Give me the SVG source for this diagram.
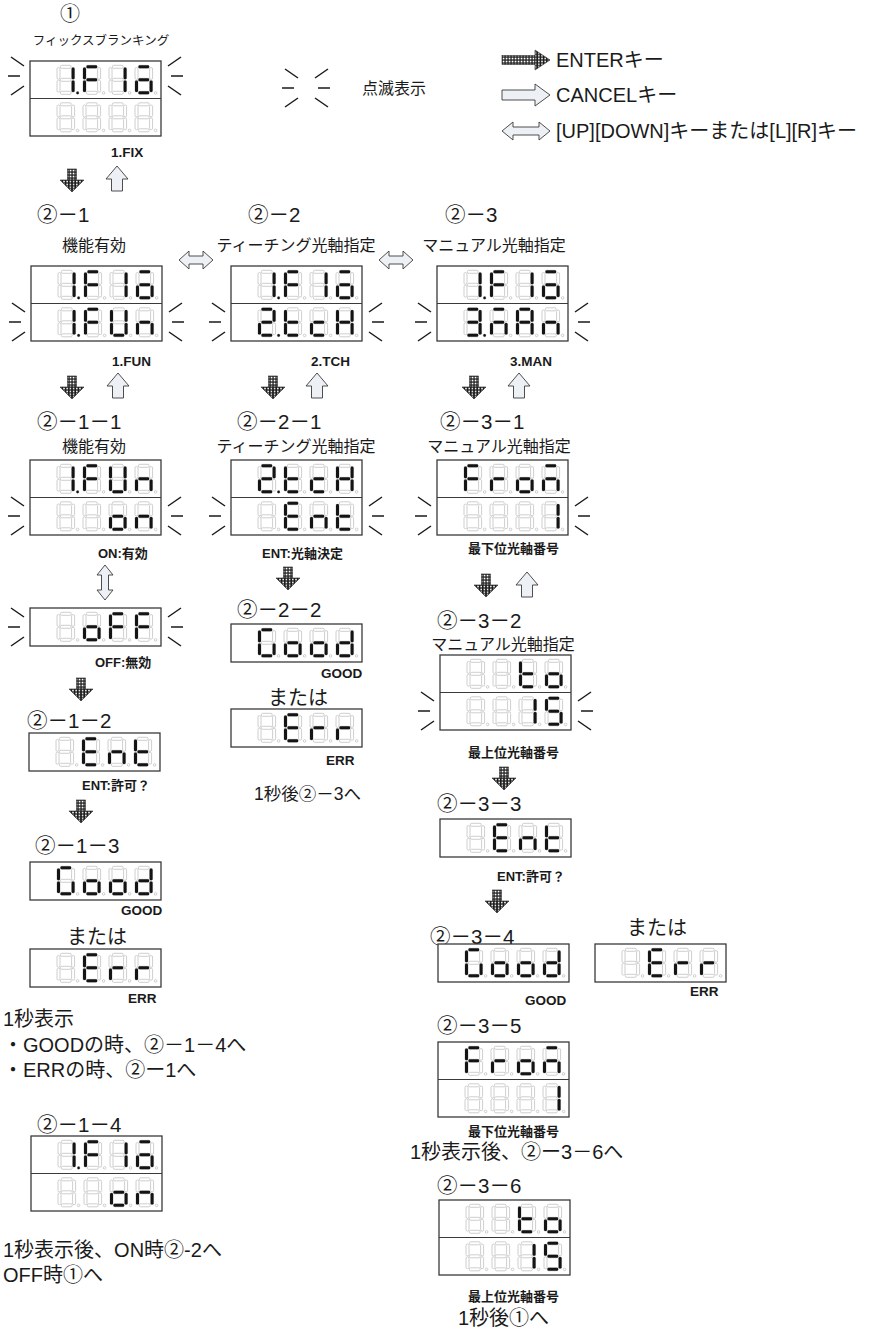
<svg xmlns="http://www.w3.org/2000/svg" xmlns:xlink="http://www.w3.org/1999/xlink" width="873" height="1329" viewBox="0 0 873 1329">
<style>
.gs{fill:#fff;stroke:#c2c2c2;stroke-width:0.8}
.on{fill:#141414;stroke:none}
.box{fill:#fff;stroke:#3a3a3a;stroke-width:1.3}
.dv{stroke:#3a3a3a;stroke-width:1.2}
.bl{fill:none;stroke:#1a1a1a;stroke-width:1.5}
.ca{fill:#edf1f5;stroke:#3a3a3a;stroke-width:0.9}
.t{font-family:"Liberation Sans","Noto Sans CJK JP",sans-serif;fill:#1a1a1a}
.lb{font-size:20.5px}
.sub{font-size:16px}
.bd{font-size:20px}
.lg{font-size:20px}
.sm{font-size:13px;font-weight:bold}
.tg{font-size:13.5px;font-weight:bold}
</style>
<defs>
<rect id="sA" x="3.4" y="0" width="10.8" height="3" rx="1.3"/>
<rect id="sB" x="14.6" y="2.3" width="3" height="11.7" rx="1.3"/>
<rect id="sC" x="14.6" y="15.1" width="3" height="11.7" rx="1.3"/>
<rect id="sD" x="3.4" y="26" width="10.8" height="3" rx="1.3"/>
<rect id="sE" x="0" y="15.1" width="3" height="11.7" rx="1.3"/>
<rect id="sF" x="0" y="2.3" width="3" height="11.7" rx="1.3"/>
<rect id="sG" x="3.4" y="13" width="10.8" height="3" rx="1.3"/>
<circle id="sP" cx="20.6" cy="27.6" r="1.3"/>
<g id="g8" class="gs"><use href="#sA"/><use href="#sB"/><use href="#sC"/><use href="#sD"/><use href="#sE"/><use href="#sF"/><use href="#sG"/><use href="#sP"/></g>
<g id="c1"><use href="#g8"/><g class="on"><use href="#sB"/><use href="#sC"/></g></g>
<g id="c1p"><use href="#c1"/><use class="on" href="#sP"/></g>
<g id="c2p"><use href="#g8"/><g class="on"><use href="#sA"/><use href="#sB"/><use href="#sG"/><use href="#sE"/><use href="#sD"/><use href="#sP"/></g></g>
<g id="c3p"><use href="#g8"/><g class="on"><use href="#sA"/><use href="#sB"/><use href="#sG"/><use href="#sC"/><use href="#sD"/><use href="#sP"/></g></g>
<g id="cF"><use href="#g8"/><g class="on"><use href="#sA"/><use href="#sF"/><use href="#sE"/><use href="#sG"/></g></g>
<g id="cX"><use href="#g8"/><g class="on"><use href="#sA"/><use href="#sG"/><use href="#sC"/><use href="#sD"/><use href="#sE"/></g></g>
<g id="cU"><use href="#g8"/><g class="on"><use href="#sB"/><use href="#sC"/><use href="#sD"/><use href="#sE"/><use href="#sF"/></g></g>
<g id="cn"><use href="#g8"/><g class="on"><use href="#sC"/><use href="#sE"/><use href="#sG"/></g></g>
<g id="cM"><use href="#g8"/><g class="on"><use href="#sA"/><use href="#sC"/><use href="#sE"/><use href="#sG"/></g></g>
<g id="cA"><use href="#g8"/><g class="on"><use href="#sA"/><use href="#sB"/><use href="#sC"/><use href="#sE"/><use href="#sF"/><use href="#sG"/></g></g>
<g id="ct"><use href="#g8"/><g class="on"><use href="#sD"/><use href="#sE"/><use href="#sF"/><use href="#sG"/></g></g>
<g id="cc"><use href="#g8"/><g class="on"><use href="#sD"/><use href="#sE"/><use href="#sG"/></g></g>
<g id="cH"><use href="#g8"/><g class="on"><use href="#sB"/><use href="#sC"/><use href="#sE"/><use href="#sF"/><use href="#sG"/></g></g>
<g id="co"><use href="#g8"/><g class="on"><use href="#sC"/><use href="#sD"/><use href="#sE"/><use href="#sG"/></g></g>
<g id="cE"><use href="#g8"/><g class="on"><use href="#sA"/><use href="#sD"/><use href="#sE"/><use href="#sF"/><use href="#sG"/></g></g>
<g id="cG"><use href="#g8"/><g class="on"><use href="#sA"/><use href="#sC"/><use href="#sD"/><use href="#sE"/><use href="#sF"/></g></g>
<g id="cd"><use href="#g8"/><g class="on"><use href="#sB"/><use href="#sC"/><use href="#sD"/><use href="#sE"/><use href="#sG"/></g></g>
<g id="cr"><use href="#g8"/><g class="on"><use href="#sE"/><use href="#sG"/></g></g>
<g id="c5"><use href="#g8"/><g class="on"><use href="#sA"/><use href="#sF"/><use href="#sG"/><use href="#sC"/><use href="#sD"/></g></g>
<g id="b2"><rect class="box" width="131" height="75"/><line class="dv" x1="0" y1="37.5" x2="131" y2="37.5"/></g>
<rect id="b1" class="box" width="131" height="38"/>
<path id="bkL" class="bl" d="M-19,-19L-6,-10M-22,0H-10M-19,19L-6,10"/>
<path id="bkR" class="bl" d="M7,-10L20,-19M10,0H22M7,10L20,19"/>
<pattern id="pS" width="3" height="3" patternUnits="userSpaceOnUse"><rect width="3" height="3" fill="#222"/><rect x="0.7" y="0.7" width="1.7" height="1.7" fill="#fff"/></pattern>
<pattern id="pH" width="3.2" height="2.8" patternUnits="userSpaceOnUse"><rect width="3.2" height="2.8" fill="#1c1c1c"/><circle cx="1.6" cy="1.4" r="0.85" fill="#fff"/></pattern>
<g id="aDn"><rect x="-4.5" y="0" width="9" height="11" fill="url(#pS)" stroke="#222" stroke-width="0.6"/><path d="M-12,11H12L0,23Z" fill="url(#pH)" stroke="#222" stroke-width="0.6"/></g>
<path id="aUp" class="ca" d="M0,0L11,13H5.5V25H-5.5V13H-11Z"/>
<path id="aUD" class="ca" d="M0,0L8,10H3.5V25H8L0,35L-8,25H-3.5V10H-8Z"/>
<path id="aLR" class="ca" d="M0,0L10,-9V-4H24V-9L34,0L24,9V4H10V9Z"/>
</defs>

<!-- legend -->
<g id="legend">
<use href="#bkL" x="304" y="88"/><use href="#bkR" x="308" y="88"/>
<text class="t" x="362" y="94" font-size="16">点滅表示</text>
<g transform="translate(502,60)"><rect x="0" y="-4.5" width="33" height="9" fill="url(#pS)" stroke="#222" stroke-width="0.6"/><path d="M33,-10L48,0L33,10Z" fill="url(#pH)" stroke="#222" stroke-width="0.6"/></g>
<text class="t lg" x="556" y="67">ENTERキー</text>
<path class="ca" transform="translate(502,95)" d="M0,-5H33V-11L48,0L33,11V5H0Z"/>
<text class="t lg" x="556" y="102">CANCELキー</text>
<path class="ca" transform="translate(502,131)" d="M0,0L11,-9V-4H37V-9L48,0L37,9V4H11V9Z"/>
<text class="t lg" x="556" y="138">[UP][DOWN]キーまたは[L][R]キー</text>
</g>

<!-- 1 -->
<g id="n1">
<text class="t" x="70" y="21" font-size="20" text-anchor="middle">①</text>
<text class="t" x="101" y="45" font-size="12.5" text-anchor="middle">フィックスブランキング</text>
<g transform="translate(30,61)">
<use href="#b2"/>
<use href="#c1p" x="27" y="4.3"/><use href="#cF" x="53" y="4.3"/><use href="#c1" x="79" y="4.3"/><use href="#cX" x="105" y="4.3"/>
<use href="#g8" x="27" y="41.8"/><use href="#g8" x="53" y="41.8"/><use href="#g8" x="79" y="41.8"/><use href="#g8" x="105" y="41.8"/>
<use href="#bkL" x="0" y="15"/><use href="#bkR" x="131" y="15"/>
</g>
<text class="t tg" x="111" y="157">1.FIX</text>
</g>

<!-- 2-1 -->
<g id="n2-1">
<text class="t lb" x="37" y="222">②－1</text>
<text class="t sub" x="94" y="251" text-anchor="middle">機能有効</text>
<g transform="translate(31,266)">
<use href="#b2"/>
<use href="#c1p" x="27" y="4.3"/><use href="#cF" x="53" y="4.3"/><use href="#c1" x="79" y="4.3"/><use href="#cX" x="105" y="4.3"/>
<use href="#c1p" x="27" y="41.8"/><use href="#cF" x="53" y="41.8"/><use href="#cU" x="79" y="41.8"/><use href="#cn" x="105" y="41.8"/>
<use href="#bkL" x="0" y="56"/><use href="#bkR" x="131" y="56"/>
</g>
<text class="t tg" x="112" y="366">1.FUN</text>
</g>

<!-- 2-2 -->
<g id="n2-2">
<text class="t lb" x="248" y="222">②－2</text>
<text class="t sub" x="296" y="251" text-anchor="middle">ティーチング光軸指定</text>
<g transform="translate(231,266)">
<use href="#b2"/>
<use href="#c1p" x="27" y="4.3"/><use href="#cF" x="53" y="4.3"/><use href="#c1" x="79" y="4.3"/><use href="#cX" x="105" y="4.3"/>
<use href="#c2p" x="27" y="41.8"/><use href="#ct" x="53" y="41.8"/><use href="#cc" x="79" y="41.8"/><use href="#cH" x="105" y="41.8"/>
<use href="#bkL" x="0" y="56"/><use href="#bkR" x="131" y="56"/>
</g>
<text class="t tg" x="311" y="366">2.TCH</text>
</g>

<!-- 2-3 -->
<g id="n2-3">
<text class="t lb" x="445" y="222">②－3</text>
<text class="t sub" x="494" y="251" text-anchor="middle">マニュアル光軸指定</text>
<g transform="translate(437,266)">
<use href="#b2"/>
<use href="#c1p" x="27" y="4.3"/><use href="#cF" x="53" y="4.3"/><use href="#c1" x="79" y="4.3"/><use href="#cX" x="105" y="4.3"/>
<use href="#c3p" x="27" y="41.8"/><use href="#cM" x="53" y="41.8"/><use href="#cA" x="79" y="41.8"/><use href="#cn" x="105" y="41.8"/>
<use href="#bkL" x="0" y="56"/><use href="#bkR" x="131" y="56"/>
</g>
<text class="t tg" x="510" y="366">3.MAN</text>
</g>

<!-- 2-1-1 -->
<g id="n2-1-1">
<text class="t lb" x="37" y="429">②－1－1</text>
<text class="t sub" x="94" y="452" text-anchor="middle">機能有効</text>
<g transform="translate(30,460)">
<use href="#b2"/>
<use href="#c1p" x="27" y="4.3"/><use href="#cF" x="53" y="4.3"/><use href="#cU" x="79" y="4.3"/><use href="#cn" x="105" y="4.3"/>
<use href="#g8" x="27" y="41.8"/><use href="#g8" x="53" y="41.8"/><use href="#co" x="79" y="41.8"/><use href="#cn" x="105" y="41.8"/>
<use href="#bkL" x="0" y="56"/><use href="#bkR" x="131" y="56"/>
</g>
<text class="t sm" x="98" y="558">ON:有効</text>
</g>

<!-- OFF -->
<g id="n-off">
<g transform="translate(30,608)">
<use href="#b1"/>
<use href="#g8" x="27" y="4.3"/><use href="#co" x="53" y="4.3"/><use href="#cF" x="79" y="4.3"/><use href="#cF" x="105" y="4.3"/>
<use href="#bkL" x="0" y="19"/><use href="#bkR" x="131" y="19"/>
</g>
<text class="t sm" x="95" y="667">OFF:無効</text>
</g>

<!-- 2-1-2 -->
<g id="n2-1-2">
<text class="t lb" x="27" y="728">②－1－2</text>
<g transform="translate(29,733)">
<use href="#b1"/>
<use href="#g8" x="27" y="4.3"/><use href="#cE" x="53" y="4.3"/><use href="#cn" x="79" y="4.3"/><use href="#ct" x="105" y="4.3"/>
</g>
<text class="t sm" x="82" y="790">ENT:許可？</text>
</g>

<!-- 2-1-3 -->
<g id="n2-1-3">
<text class="t lb" x="35" y="853">②－1－3</text>
<g transform="translate(30,862)">
<use href="#b1"/>
<use href="#cG" x="27" y="4.3"/><use href="#co" x="53" y="4.3"/><use href="#co" x="79" y="4.3"/><use href="#cd" x="105" y="4.3"/>
</g>
<text class="t tg" x="121" y="915">GOOD</text>
</g>

<g id="n2-1-3err">
<text class="t bd" x="67" y="944">または</text>
<g transform="translate(30,949)">
<use href="#b1"/>
<use href="#g8" x="27" y="4.3"/><use href="#cE" x="53" y="4.3"/><use href="#cr" x="79" y="4.3"/><use href="#cr" x="105" y="4.3"/>
</g>
<text class="t tg" x="128" y="1003">ERR</text>
</g>

<g id="note1">
<text class="t bd" x="3" y="1026">1秒表示</text>
<text class="t bd" x="3" y="1052">・GOODの時、②－1－4へ</text>
<text class="t bd" x="3" y="1077">・ERRの時、②ー1へ</text>
</g>

<!-- 2-1-4 -->
<g id="n2-1-4">
<text class="t lb" x="37" y="1132">②－1－4</text>
<g transform="translate(31,1136)">
<use href="#b2"/>
<use href="#c1p" x="27" y="4.3"/><use href="#cF" x="53" y="4.3"/><use href="#c1" x="79" y="4.3"/><use href="#cX" x="105" y="4.3"/>
<use href="#g8" x="27" y="41.8"/><use href="#g8" x="53" y="41.8"/><use href="#co" x="79" y="41.8"/><use href="#cn" x="105" y="41.8"/>
</g>
<text class="t bd" x="3" y="1257">1秒表示後、ON時②-2へ</text>
<text class="t bd" x="3" y="1282">OFF時①へ</text>
</g>

<!-- 2-2-1 -->
<g id="n2-2-1">
<text class="t lb" x="237" y="429">②－2－1</text>
<text class="t sub" x="296" y="452" text-anchor="middle">ティーチング光軸指定</text>
<g transform="translate(231,460)">
<use href="#b2"/>
<use href="#c2p" x="27" y="4.3"/><use href="#ct" x="53" y="4.3"/><use href="#cc" x="79" y="4.3"/><use href="#cH" x="105" y="4.3"/>
<use href="#g8" x="27" y="41.8"/><use href="#cE" x="53" y="41.8"/><use href="#cn" x="79" y="41.8"/><use href="#ct" x="105" y="41.8"/>
<use href="#bkL" x="0" y="56"/><use href="#bkR" x="131" y="56"/>
</g>
<text class="t sm" x="262" y="558">ENT:光軸決定</text>
</g>

<!-- 2-2-2 -->
<g id="n2-2-2">
<text class="t lb" x="237" y="617">②－2－2</text>
<g transform="translate(231,624)">
<use href="#b1"/>
<use href="#cG" x="27" y="4.3"/><use href="#co" x="53" y="4.3"/><use href="#co" x="79" y="4.3"/><use href="#cd" x="105" y="4.3"/>
</g>
<text class="t tg" x="321" y="678">GOOD</text>
</g>
<g id="n2-2-2err">
<text class="t bd" x="268" y="705">または</text>
<g transform="translate(231,709)">
<use href="#b1"/>
<use href="#g8" x="27" y="4.3"/><use href="#cE" x="53" y="4.3"/><use href="#cr" x="79" y="4.3"/><use href="#cr" x="105" y="4.3"/>
</g>
<text class="t tg" x="326" y="765">ERR</text>
<text class="t" x="254" y="800" font-size="17.5">1秒後②－3へ</text>
</g>

<!-- 2-3-1 -->
<g id="n2-3-1">
<text class="t lb" x="440" y="429">②－3－1</text>
<text class="t sub" x="499" y="452" text-anchor="middle">マニュアル光軸指定</text>
<g transform="translate(437,460)">
<use href="#b2"/>
<use href="#cF" x="27" y="4.3"/><use href="#cr" x="53" y="4.3"/><use href="#co" x="79" y="4.3"/><use href="#cM" x="105" y="4.3"/>
<use href="#g8" x="27" y="41.8"/><use href="#g8" x="53" y="41.8"/><use href="#g8" x="79" y="41.8"/><use href="#c1" x="105" y="41.8"/>
<use href="#bkL" x="0" y="56"/><use href="#bkR" x="131" y="56"/>
</g>
<text class="t sm" x="468" y="553">最下位光軸番号</text>
</g>

<!-- 2-3-2 -->
<g id="n2-3-2">
<text class="t lb" x="437" y="628">②－3－2</text>
<text class="t sub" x="503" y="650" text-anchor="middle">マニュアル光軸指定</text>
<g transform="translate(440,655)">
<use href="#b2"/>
<use href="#g8" x="27" y="4.3"/><use href="#g8" x="53" y="4.3"/><use href="#ct" x="79" y="4.3"/><use href="#co" x="105" y="4.3"/>
<use href="#g8" x="27" y="41.8"/><use href="#g8" x="53" y="41.8"/><use href="#c1" x="79" y="41.8"/><use href="#c5" x="105" y="41.8"/>
<use href="#bkL" x="0" y="56"/><use href="#bkR" x="131" y="56"/>
</g>
<text class="t sm" x="468" y="757">最上位光軸番号</text>
</g>

<!-- 2-3-3 -->
<g id="n2-3-3">
<text class="t lb" x="437" y="811">②－3－3</text>
<g transform="translate(440,819)">
<use href="#b1"/>
<use href="#g8" x="27" y="4.3"/><use href="#cE" x="53" y="4.3"/><use href="#cn" x="79" y="4.3"/><use href="#ct" x="105" y="4.3"/>
</g>
<text class="t sm" x="497" y="881">ENT:許可？</text>
</g>

<!-- 2-3-4 -->
<g id="n2-3-4">
<text class="t lb" x="430" y="944">②－3－4</text>
<g transform="translate(438,944)">
<use href="#b1"/>
<use href="#cG" x="27" y="4.3"/><use href="#co" x="53" y="4.3"/><use href="#co" x="79" y="4.3"/><use href="#cd" x="105" y="4.3"/>
</g>
<text class="t tg" x="525" y="1005">GOOD</text>
</g>
<g id="n2-3-4err">
<text class="t bd" x="627" y="935">または</text>
<g transform="translate(595,944)">
<use href="#b1"/>
<use href="#g8" x="27" y="4.3"/><use href="#cE" x="53" y="4.3"/><use href="#cr" x="79" y="4.3"/><use href="#cr" x="105" y="4.3"/>
</g>
<text class="t tg" x="690" y="996">ERR</text>
</g>

<!-- 2-3-5 -->
<g id="n2-3-5">
<text class="t lb" x="437" y="1033">②－3－5</text>
<g transform="translate(438,1042)">
<use href="#b2"/>
<use href="#cF" x="27" y="4.3"/><use href="#cr" x="53" y="4.3"/><use href="#co" x="79" y="4.3"/><use href="#cM" x="105" y="4.3"/>
<use href="#g8" x="27" y="41.8"/><use href="#g8" x="53" y="41.8"/><use href="#g8" x="79" y="41.8"/><use href="#c1" x="105" y="41.8"/>
</g>
<text class="t sm" x="468" y="1136">最下位光軸番号</text>
<text class="t bd" x="410" y="1159">1秒表示後、②ー3－6へ</text>
</g>

<!-- 2-3-6 -->
<g id="n2-3-6">
<text class="t lb" x="437" y="1193">②－3－6</text>
<g transform="translate(439,1200)">
<use href="#b2"/>
<use href="#g8" x="27" y="4.3"/><use href="#g8" x="53" y="4.3"/><use href="#ct" x="79" y="4.3"/><use href="#co" x="105" y="4.3"/>
<use href="#g8" x="27" y="41.8"/><use href="#g8" x="53" y="41.8"/><use href="#c1" x="79" y="41.8"/><use href="#c5" x="105" y="41.8"/>
</g>
<text class="t sm" x="468" y="1301">最上位光軸番号</text>
<text class="t bd" x="458" y="1325">1秒後①へ</text>
</g>

<g id="connectors">
<use href="#aDn" x="72" y="169"/><use href="#aUp" x="117" y="166"/>
<use href="#aLR" x="179" y="260"/><use href="#aLR" x="379" y="260"/>
<use href="#aDn" x="72" y="376"/><use href="#aUp" x="118" y="373"/>
<use href="#aDn" x="273" y="376"/><use href="#aUp" x="317" y="373"/>
<use href="#aDn" x="474" y="376"/><use href="#aUp" x="519" y="373"/>
<use href="#aUD" x="105" y="565"/>
<use href="#aDn" x="81" y="678"/>
<use href="#aDn" x="81" y="800"/>
<use href="#aDn" x="288" y="567"/>
<use href="#aDn" x="486" y="574"/><use href="#aUp" x="527" y="572"/>
<use href="#aDn" x="504" y="767"/>
<use href="#aDn" x="497" y="890"/>
</g>
</svg>
